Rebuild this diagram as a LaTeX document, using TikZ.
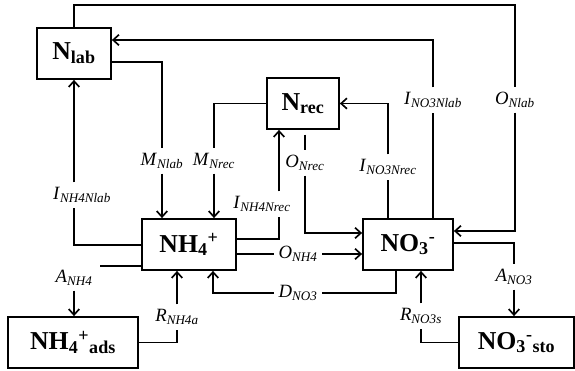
\documentclass[tikz,border=0pt]{standalone}
\usepackage{fontspec}
\setmainfont{Liberation Serif}
\usepackage{tikz}
\usetikzlibrary{arrows.meta}
\newcommand{\flowlab}[2]{\textit{#1}\textsubscript{\textit{#2}}}

\begin{document}
\begin{tikzpicture}[x=0.03cm, y=-0.03cm,
    pool/.style={draw, line width=1.5pt, inner sep=0pt, minimum height=1.53cm,
                 font=\fontsize{22}{24}\selectfont\bfseries},
    flow/.style={inner sep=4pt, font=\fontsize{16}{18}\selectfont},
    link/.style={line width=1.4pt},
    arr/.style={link, -{Straight Barb[length=5pt, width=9pt]}}]
    \useasboundingbox (0,0) rectangle (575,371);

    \node[pool, minimum width=2.22cm] (nlab) at (74,53.5) {N\textsubscript{lab}};
    \node[pool, minimum width=2.16cm] (nrec) at (303,103.5) {N\textsubscript{rec}};
    \node[pool, minimum width=2.82cm] (nh4) at (189,244.5) {NH\textsubscript{4}\textsuperscript{+}};
    \node[pool, minimum width=2.70cm] (no3) at (408,244.5) {NO\textsubscript{3}\textsuperscript{-}};
    \node[pool, minimum width=3.90cm] (ads) at (73,342.5) {NH\textsubscript{4}\textsuperscript{+}\textsubscript{ads}};
    \node[pool, minimum width=3.45cm] (sto) at (516.5,342.5) {NO\textsubscript{3}\textsuperscript{-}\textsubscript{sto}};

    \node[flow] (onlab) at (515,100) {\flowlab{O}{Nlab}};
    \node[flow] (ino3nlab) at (433,100) {\flowlab{I}{NO3Nlab}};
    \node[flow] (mnlab) at (162,161) {\flowlab{M}{Nlab}};
    \node[flow] (mnrec) at (214,161) {\flowlab{M}{Nrec}};
    \node[flow] (onrec) at (305,163) {\flowlab{O}{Nrec}};
    \node[flow] (ino3nrec) at (388,167) {\flowlab{I}{NO3Nrec}};
    \node[flow] (inh4nrec) at (262,204) {\flowlab{I}{NH4Nrec}};
    \node[flow] (inh4nlab) at (82,195) {\flowlab{I}{NH4Nlab}};
    \node[flow] (onh4) at (298,254) {\flowlab{O}{NH4}};
    \node[flow] (dno3) at (298,293) {\flowlab{D}{NO3}};
    \node[flow] (anh4) at (74,278) {\flowlab{A}{NH4}};
    \node[flow] (rnh4a) at (177,317) {\flowlab{R}{NH4a}};
    \node[flow] (rno3s) at (421,316) {\flowlab{R}{NO3s}};
    \node[flow] (ano3) at (514,277) {\flowlab{A}{NO3}};
    \coordinate (anh4end) at (100,266);

    \draw[link] (nlab.north) -- ++(0,-22) -| (onlab);
    \draw[arr] (onlab) |- (no3.east |- 0,231);
    \draw[link] (ino3nlab |- no3.north) -- (ino3nlab);
    \draw[arr] (ino3nlab) |- (nlab.east |- 0,40);
    \draw[link] (nlab.east |- 0,62) -| (mnlab);
    \draw[arr] (mnlab) -- (mnlab |- nh4.north);
    \draw[link] (nrec.west) -| (mnrec);
    \draw[arr] (mnrec) -- (mnrec |- nh4.north);
    \draw[link] (nh4.east |- 0,239) -| (inh4nrec.south -| 279,0);
    \draw[arr] (inh4nrec.north -| 279,0) -- (nrec.south -| 279,0);
    \draw[link, shorten <=4pt] (nrec.south -| onrec) -- (onrec);
    \draw[arr] (onrec) |- (no3.west |- 0,233);
    \draw[link] (ino3nrec |- no3.north) -- (ino3nrec);
    \draw[arr] (ino3nrec) |- (nrec.east);
    \draw[link] (nh4.east |- onh4) -- (onh4);
    \draw[arr] (onh4) -- (no3.west |- onh4);
    \draw[link] (no3.south -| 396,0) |- (dno3);
    \draw[arr] (dno3) -| (nh4.south -| 213,0);
    \draw[link] (nh4.west |- 0,245) -| (inh4nlab.south -| nlab.south);
    \draw[arr] (inh4nlab.north -| nlab.south) -- (nlab.south);
    \draw[link] (nh4.west |- anh4end) -- (anh4end);
    \draw[arr] (anh4) -- (anh4 |- ads.north);
    \draw[link] (ads.east) -| (rnh4a);
    \draw[arr] (rnh4a) -- (rnh4a |- nh4.south);
    \draw[link] (sto.west) -| (rno3s);
    \draw[arr] (rno3s) -- (rno3s |- no3.south);
    \draw[link] (no3.east |- 0,243) -| (ano3);
    \draw[arr] (ano3) -- (ano3 |- sto.north);
\end{tikzpicture}
\end{document}
